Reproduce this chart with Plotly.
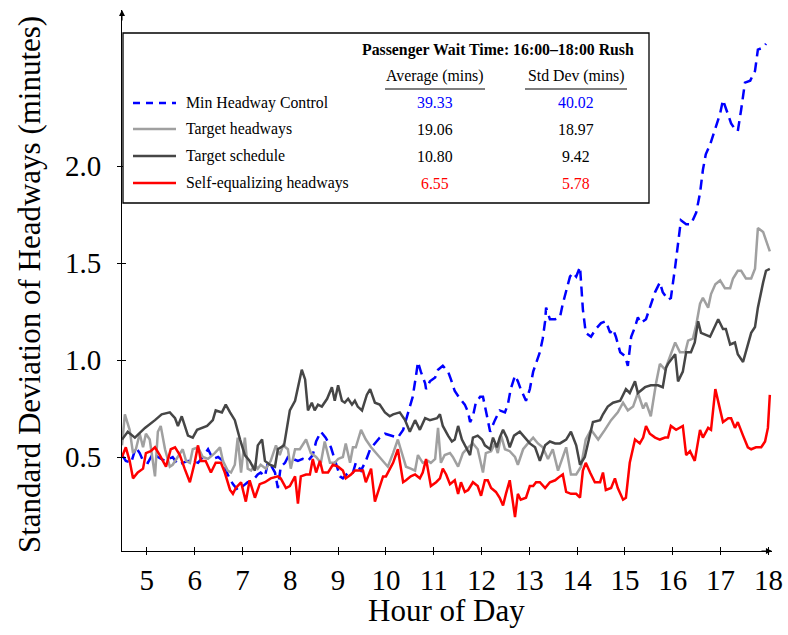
import plotly.graph_objects as go

# ---- data: standard deviation of headways (minutes) by hour of day ----
min_headway_hours = [4.48, 4.56, 4.67, 4.77, 4.85, 4.92, 5.02, 5.13, 5.23, 5.38, 5.54, 5.65, 5.75, 5.86, 5.96,
                     6.07, 6.17, 6.28, 6.38, 6.49, 6.59, 6.69, 6.80, 6.90, 7.01, 7.11, 7.22, 7.32, 7.38, 7.47,
                     7.53, 7.59, 7.68, 7.74, 7.80, 7.89, 7.95, 8.05, 8.16, 8.26, 8.37, 8.47, 8.54, 8.64, 8.74,
                     8.85, 8.93, 9.04, 9.10, 9.21, 9.31, 9.37, 9.48, 9.58, 9.67, 9.77, 9.87, 9.98, 10.10, 10.25,
                     10.36, 10.46, 10.56, 10.63, 10.67, 10.73, 10.82, 10.84, 10.92, 11.03, 11.09, 11.19, 11.30,
                     11.36, 11.44, 11.55, 11.65, 11.72, 11.76, 11.82, 11.88, 11.97, 12.03, 12.09, 12.18, 12.28,
                     12.38, 12.49, 12.55, 12.61, 12.70, 12.76, 12.82, 12.93, 13.01, 13.08, 13.14, 13.22, 13.28,
                     13.33, 13.35, 13.43, 13.54, 13.64, 13.70, 13.77, 13.85, 13.91, 13.98, 14.06, 14.12, 14.18,
                     14.29, 14.39, 14.50, 14.60, 14.69, 14.75, 14.81, 14.90, 15.00, 15.06, 15.13, 15.21, 15.27,
                     15.33, 15.44, 15.52, 15.63, 15.73, 15.79, 15.90, 15.96, 16.05, 16.11, 16.17, 16.28, 16.38,
                     16.49, 16.57, 16.63, 16.69, 16.78, 16.89, 16.99, 17.05, 17.11, 17.22, 17.30, 17.36, 17.43,
                     17.51, 17.62, 17.72, 17.78, 17.89, 17.95]
min_headway_sd = [0.51, 0.48, 0.47, 0.55, 0.52, 0.48, 0.47, 0.52, 0.50, 0.48, 0.50, 0.46, 0.47, 0.48, 0.48,
                  0.47, 0.50, 0.54, 0.49, 0.50, 0.48, 0.41, 0.36, 0.33, 0.35, 0.37, 0.38, 0.41, 0.42, 0.40,
                  0.47, 0.46, 0.42, 0.34, 0.45, 0.47, 0.50, 0.49, 0.48, 0.49, 0.48, 0.51, 0.58, 0.63, 0.60,
                  0.55, 0.49, 0.40, 0.39, 0.42, 0.42, 0.47, 0.43, 0.48, 0.54, 0.57, 0.60, 0.62, 0.61, 0.60,
                  0.64, 0.72, 0.81, 0.92, 0.99, 0.94, 0.88, 0.85, 0.89, 0.91, 0.95, 0.97, 0.94,
                  0.90, 0.84, 0.80, 0.77, 0.73, 0.68, 0.71, 0.78, 0.81, 0.81, 0.74, 0.63, 0.69,
                  0.74, 0.73, 0.77, 0.85, 0.92, 0.89, 0.85, 0.79, 0.85, 0.94, 0.98, 1.04, 1.11,
                  1.20, 1.27, 1.21, 1.21, 1.22, 1.29, 1.35, 1.43, 1.45, 1.43, 1.48, 1.26, 1.14,
                  1.12, 1.16, 1.19, 1.20, 1.14, 1.16, 1.12, 1.04, 1.02, 0.97, 1.12, 1.17, 1.22,
                  1.19, 1.21, 1.27, 1.35, 1.40, 1.35, 1.31, 1.32, 1.48, 1.60, 1.72, 1.70, 1.70,
                  1.76, 1.86, 1.98, 2.06, 2.11, 2.20, 2.27, 2.34, 2.30, 2.22, 2.19, 2.18, 2.29,
                  2.43, 2.44, 2.49, 2.60, 2.61, 2.63]

target_headways_hours = [4.48, 4.54, 4.64, 4.71, 4.77, 4.85, 4.92, 4.98, 5.06, 5.17, 5.23, 5.29, 5.38, 5.48,
                         5.54, 5.65, 5.75, 5.82, 5.90, 5.96, 6.07, 6.17, 6.28, 6.42, 6.53, 6.59, 6.69, 6.76,
                         6.84, 6.90, 6.97, 7.05, 7.11, 7.18, 7.26, 7.32, 7.38, 7.49, 7.59, 7.70, 7.78, 7.85,
                         7.95, 8.01, 8.10, 8.20, 8.33, 8.43, 8.54, 8.64, 8.72, 8.83, 8.93, 9.00, 9.10, 9.16,
                         9.25, 9.31, 9.37, 9.48, 9.58, 9.69, 9.83, 9.98, 10.04, 10.15, 10.25, 10.31, 10.42,
                         10.52, 10.61, 10.67, 10.77, 10.88, 10.94, 11.03, 11.09, 11.15, 11.23, 11.34, 11.40,
                         11.51, 11.61, 11.72, 11.82, 11.92, 12.03, 12.09, 12.20, 12.28, 12.34, 12.41, 12.49,
                         12.59, 12.70, 12.76, 12.87, 12.97, 13.08, 13.18, 13.28, 13.39, 13.49, 13.60, 13.77,
                         13.87, 13.98, 14.08, 14.18, 14.29, 14.44, 14.58, 14.71, 14.85, 14.96, 15.06, 15.17,
                         15.27, 15.38, 15.44, 15.54, 15.65, 15.73, 15.84, 15.94, 16.05, 16.15, 16.26, 16.32,
                         16.42, 16.49, 16.57, 16.63, 16.74, 16.80, 16.89, 16.99, 17.09, 17.20, 17.26, 17.36,
                         17.43, 17.53, 17.64, 17.72, 17.78, 17.89, 18.03]
target_headways_sd = [0.56, 0.72, 0.64, 0.52, 0.54, 0.62, 0.55, 0.62, 0.59, 0.40, 0.63, 0.66, 0.54, 0.45,
                      0.46, 0.50, 0.54, 0.48, 0.47, 0.54, 0.55, 0.50, 0.49, 0.52, 0.55, 0.48, 0.43, 0.42,
                      0.46, 0.60, 0.42, 0.60, 0.44, 0.43, 0.46, 0.44, 0.46, 0.44, 0.48, 0.56, 0.51, 0.56,
                      0.54, 0.44, 0.54, 0.54, 0.59, 0.52, 0.50, 0.47, 0.58, 0.47, 0.47, 0.49, 0.50, 0.57,
                      0.47, 0.55, 0.55, 0.64, 0.59, 0.55, 0.51, 0.47, 0.45, 0.52, 0.59, 0.54, 0.45,
                      0.44, 0.43, 0.51, 0.47, 0.48, 0.47, 0.49, 0.65, 0.47, 0.51, 0.52, 0.50,
                      0.45, 0.52, 0.55, 0.57, 0.54, 0.42, 0.52, 0.53, 0.57, 0.52, 0.61, 0.54,
                      0.53, 0.50, 0.46, 0.54, 0.57, 0.60, 0.57, 0.55, 0.49, 0.54, 0.43, 0.55,
                      0.41, 0.41, 0.45, 0.59, 0.64, 0.59, 0.64, 0.69, 0.73, 0.78, 0.74, 0.76,
                      0.83, 0.75, 0.78, 0.71, 0.88, 0.98, 0.95, 1.02, 1.09, 1.04, 1.04, 1.10,
                      1.11, 1.18, 1.29, 1.32, 1.27, 1.34, 1.39, 1.41, 1.37, 1.37, 1.42, 1.46,
                      1.46, 1.42, 1.42, 1.47, 1.68, 1.66, 1.56]

target_schedule_hours = [4.48, 4.60, 4.75, 4.96, 5.17, 5.31, 5.48, 5.59, 5.65, 5.73, 5.86, 5.96, 6.05, 6.26,
                         6.38, 6.44, 6.57, 6.65, 6.74, 6.84, 6.95, 7.05, 7.15, 7.26, 7.32, 7.41, 7.47, 7.57,
                         7.68, 7.74, 7.87, 7.99, 8.10, 8.20, 8.24, 8.31, 8.37, 8.45, 8.51, 8.58, 8.66, 8.77,
                         8.87, 8.93, 9.00, 9.08, 9.14, 9.21, 9.29, 9.35, 9.41, 9.50, 9.60, 9.67, 9.77, 9.87,
                         9.98, 10.08, 10.15, 10.29, 10.40, 10.50, 10.61, 10.71, 10.82, 10.92, 11.07, 11.13,
                         11.19, 11.30, 11.38, 11.44, 11.51, 11.59, 11.69, 11.76, 11.82, 11.92, 12.01, 12.07,
                         12.18, 12.24, 12.32, 12.38, 12.45, 12.53, 12.59, 12.68, 12.80, 12.91, 13.01, 13.12,
                         13.22, 13.33, 13.43, 13.54, 13.64, 13.77, 13.87, 13.98, 14.06, 14.16, 14.33, 14.48,
                         14.54, 14.64, 14.75, 14.90, 15.02, 15.10, 15.21, 15.27, 15.42, 15.54, 15.69, 15.79,
                         15.86, 15.90, 16.05, 16.11, 16.21, 16.28, 16.38, 16.46, 16.53, 16.59, 16.78, 16.95,
                         17.05, 17.11, 17.20, 17.30, 17.36, 17.47, 17.57, 17.64, 17.72, 17.78, 17.89, 17.95,
                         18.03]
target_schedule_sd = [0.59, 0.63, 0.60, 0.65, 0.69, 0.72, 0.73, 0.70, 0.66, 0.71, 0.61, 0.60, 0.64, 0.66,
                      0.69, 0.74, 0.73, 0.77, 0.73, 0.69, 0.59, 0.51, 0.48, 0.43, 0.56, 0.59, 0.48, 0.46,
                      0.45, 0.54, 0.56, 0.74, 0.79, 0.90, 0.95, 0.90, 0.74, 0.78, 0.74, 0.77, 0.76, 0.80,
                      0.86, 0.79, 0.87, 0.79, 0.78, 0.80, 0.77, 0.79, 0.76, 0.74, 0.82, 0.85, 0.78, 0.77,
                      0.73, 0.71, 0.72, 0.73, 0.69, 0.63, 0.69, 0.64, 0.70, 0.69, 0.70, 0.72,
                      0.66, 0.61, 0.58, 0.59, 0.66, 0.59, 0.54, 0.51, 0.60, 0.61, 0.59, 0.56,
                      0.54, 0.60, 0.55, 0.60, 0.64, 0.60, 0.55, 0.61, 0.63, 0.60, 0.57, 0.55,
                      0.48, 0.56, 0.58, 0.57, 0.57, 0.59, 0.63, 0.56, 0.46, 0.50, 0.68, 0.69,
                      0.72, 0.76, 0.78, 0.79, 0.85, 0.83, 0.89, 0.83, 0.86, 0.87, 0.87, 0.86,
                      0.96, 0.98, 1.03, 0.89, 0.94, 1.04, 1.04, 1.09, 1.20, 1.14, 1.12, 1.21,
                      1.16, 1.16, 1.08, 1.09, 1.03, 0.99, 1.08, 1.14, 1.17, 1.27, 1.40, 1.46,
                      1.47]

self_equalizing_hours = [4.48, 4.56, 4.64, 4.71, 4.81, 4.92, 4.98, 5.08, 5.17, 5.27, 5.40, 5.50, 5.59, 5.69,
                         5.79, 5.90, 6.00, 6.07, 6.13, 6.23, 6.34, 6.44, 6.55, 6.63, 6.74, 6.80, 6.86, 6.97,
                         7.07, 7.15, 7.26, 7.36, 7.47, 7.59, 7.74, 7.80, 7.91, 7.99, 8.10, 8.16, 8.22, 8.33,
                         8.41, 8.47, 8.54, 8.62, 8.68, 8.79, 8.89, 9.00, 9.10, 9.16, 9.27, 9.35, 9.46, 9.52,
                         9.58, 9.69, 9.77, 9.87, 9.94, 10.00, 10.08, 10.15, 10.25, 10.36, 10.42, 10.52, 10.61,
                         10.71, 10.77, 10.84, 10.94, 11.05, 11.13, 11.19, 11.26, 11.34, 11.44, 11.51, 11.57,
                         11.65, 11.72, 11.82, 11.92, 11.99, 12.07, 12.13, 12.20, 12.30, 12.38, 12.45, 12.51,
                         12.59, 12.66, 12.70, 12.76, 12.82, 12.93, 13.01, 13.08, 13.14, 13.22, 13.33, 13.43,
                         13.54, 13.64, 13.70, 13.77, 13.87, 13.98, 14.06, 14.12, 14.18, 14.27, 14.37, 14.48,
                         14.54, 14.60, 14.71, 14.79, 14.85, 14.96, 15.02, 15.10, 15.21, 15.31, 15.38, 15.44,
                         15.52, 15.63, 15.73, 15.84, 15.90, 15.96, 16.07, 16.21, 16.28, 16.36, 16.46, 16.57,
                         16.63, 16.74, 16.80, 16.89, 17.05, 17.16, 17.22, 17.30, 17.36, 17.47, 17.57, 17.64,
                         17.74, 17.85, 17.93, 17.99, 18.03]
self_equalizing_sd = [0.50, 0.55, 0.48, 0.39, 0.42, 0.44, 0.52, 0.53, 0.55, 0.51, 0.45, 0.54, 0.55, 0.51,
                      0.44, 0.37, 0.47, 0.56, 0.48, 0.48, 0.42, 0.47, 0.47, 0.42, 0.33, 0.31, 0.34, 0.37,
                      0.27, 0.38, 0.29, 0.36, 0.37, 0.39, 0.40, 0.39, 0.34, 0.35, 0.40, 0.26, 0.40, 0.41,
                      0.41, 0.49, 0.42, 0.48, 0.42, 0.42, 0.46, 0.45, 0.43, 0.39, 0.41, 0.43, 0.43, 0.43,
                      0.37, 0.44, 0.27, 0.35, 0.40, 0.40, 0.44, 0.47, 0.54, 0.37, 0.38, 0.40, 0.41,
                      0.39, 0.42, 0.49, 0.35, 0.37, 0.39, 0.44, 0.41, 0.36, 0.38, 0.31, 0.37,
                      0.32, 0.33, 0.37, 0.35, 0.30, 0.38, 0.38, 0.34, 0.32, 0.29, 0.25, 0.31,
                      0.38, 0.26, 0.19, 0.31, 0.28, 0.29, 0.35, 0.35, 0.37, 0.37, 0.34, 0.37,
                      0.38, 0.40, 0.41, 0.32, 0.31, 0.31, 0.29, 0.43, 0.47, 0.42, 0.37, 0.37,
                      0.42, 0.33, 0.34, 0.39, 0.34, 0.28, 0.29, 0.47, 0.59, 0.57, 0.60, 0.66,
                      0.62, 0.60, 0.59, 0.60, 0.60, 0.66, 0.64, 0.66, 0.51, 0.53, 0.48, 0.64,
                      0.60, 0.65, 0.64, 0.85, 0.68, 0.70, 0.70, 0.65, 0.68, 0.61, 0.55, 0.54,
                      0.55, 0.55, 0.58, 0.65, 0.82]

# ---- table shown in the key: passenger wait time, 16:00-18:00 rush ----
series_names = ["Min Headway Control", "Target headways", "Target schedule", "Self-equalizing headways"]
wait_average = ["39.33", "19.06", "10.80", "6.55"]
wait_std_dev = ["40.02", "18.97", "9.42", "5.78"]

x_ticks = [5, 6, 7, 8, 9, 10, 11, 12, 13, 14, 15, 16, 17, 18]
y_ticks = [0.5, 1.0, 1.5, 2.0]

BLUE = "#0000ff"
LIGHT = "#a0a0a0"
DARK = "#464646"
RED = "#ff0000"
SERIF = "Liberation Serif, Times New Roman, serif"
KEY_SIZE = 15.8

styles = [
    dict(color=BLUE, dash="10px,6px"),
    dict(color=LIGHT, dash="solid"),
    dict(color=DARK, dash="solid"),
    dict(color=RED, dash="solid"),
]
value_colors = [BLUE, "black", "black", RED]

fig = go.Figure()
# draw order: blue dashed underneath, red on top
for xs, ys, st in [
    (min_headway_hours, min_headway_sd, styles[0]),
    (target_headways_hours, target_headways_sd, styles[1]),
    (target_schedule_hours, target_schedule_sd, styles[2]),
    (self_equalizing_hours, self_equalizing_sd, styles[3]),
]:
    fig.add_trace(go.Scatter(x=xs, y=ys, mode="lines", showlegend=False,
                             line=dict(color=st["color"], dash=st["dash"], width=2.5)))

# ---- geometry of the plotting area in pixels ----
W, H = 788, 635
L, R, T, B = 122, 16, 10, 84
pw, ph = W - L - R, H - T - B


def px(xpix):
    return (xpix - L) / pw


def py(ypix):
    return (H - B - ypix) / ph


shapes = []
ann = []

# key box with the wait-time table
shapes.append(dict(type="rect", xref="paper", yref="paper", x0=px(123), x1=px(649), y0=py(203), y1=py(33),
                   line=dict(color="black", width=1.3), fillcolor="white", layer="above"))
ann.append(dict(xref="paper", yref="paper", x=px(498), y=py(50), text="<b>Passenger Wait Time: 16:00–18:00 Rush</b>",
                showarrow=False, font=dict(family=SERIF, size=KEY_SIZE, color="black"),
                xanchor="center", yanchor="middle"))
for cx, label, x0, x1 in [(435, "Average (mins)", 385, 485), (576, "Std Dev (mins)", 525, 627)]:
    ann.append(dict(xref="paper", yref="paper", x=px(cx), y=py(76), text=label, showarrow=False,
                    font=dict(family=SERIF, size=KEY_SIZE, color="black"), xanchor="center", yanchor="middle"))
    shapes.append(dict(type="line", xref="paper", yref="paper", x0=px(x0), x1=px(x1), y0=py(89), y1=py(89),
                       line=dict(color="#555555", width=1.3), layer="above"))

row_y = [103, 129, 156, 183]
for i, name in enumerate(series_names):
    yy = py(row_y[i])
    shapes.append(dict(type="line", xref="paper", yref="paper", x0=px(133), x1=px(176), y0=yy, y1=yy,
                       line=dict(color=styles[i]["color"], dash="7px,6px" if i == 0 else "solid", width=2.5),
                       layer="above"))
    ann.append(dict(xref="paper", yref="paper", x=px(184), y=yy, text=name, showarrow=False,
                    font=dict(family=SERIF, size=KEY_SIZE, color="black"), xanchor="left", yanchor="middle"))
    ann.append(dict(xref="paper", yref="paper", x=px(435), y=yy, text=wait_average[i], showarrow=False,
                    font=dict(family=SERIF, size=KEY_SIZE, color=value_colors[i]),
                    xanchor="center", yanchor="middle"))
    ann.append(dict(xref="paper", yref="paper", x=px(576), y=yy, text=wait_std_dev[i], showarrow=False,
                    font=dict(family=SERIF, size=KEY_SIZE, color=value_colors[i]),
                    xanchor="center", yanchor="middle"))

# axis titles
ann.append(dict(xref="paper", yref="paper", x=px(446), y=py(610), text="Hour of Day", showarrow=False,
                font=dict(family=SERIF, size=31, color="black"), xanchor="center", yanchor="middle"))
ann.append(dict(xref="paper", yref="paper", x=px(29), y=py(285), text="Standard Deviation of Headways (minutes)",
                showarrow=False, textangle=-90, font=dict(family=SERIF, size=31, color="black"),
                xanchor="center", yanchor="middle"))

# arrow heads on the axis lines
ann.append(dict(xref="paper", yref="paper", x=1.0, y=0.0, ax=-12, ay=0, axref="pixel", ayref="pixel",
                text="", showarrow=True, arrowhead=2, arrowsize=1.1, arrowwidth=1.1, arrowcolor="black"))
ann.append(dict(xref="paper", yref="paper", x=0.0, y=1.0, ax=0, ay=12, axref="pixel", ayref="pixel",
                text="", showarrow=True, arrowhead=2, arrowsize=1.1, arrowwidth=1.1, arrowcolor="black"))

x_range = [4.48, 5 + (L + pw - 147) / 47.8]
y_range = [(554 - (H - B)) / 194, (554 - T) / 194]

fig.update_layout(
    width=W, height=H,
    margin=dict(l=L, r=R, t=T, b=B, pad=0, autoexpand=False),
    paper_bgcolor="white", plot_bgcolor="white",
    shapes=shapes, annotations=ann,
    font=dict(family=SERIF, color="black"),
    xaxis=dict(range=x_range, tickvals=x_ticks, ticktext=[str(v) for v in x_ticks], automargin=False,
               showgrid=False, zeroline=False, showline=True, linecolor="black", linewidth=1.1,
               ticks="outside", ticklen=3, tickcolor="black", tickwidth=1,
               tickfont=dict(family=SERIF, size=29, color="black")),
    yaxis=dict(range=y_range, tickvals=y_ticks, ticktext=["%.1f" % v for v in y_ticks], automargin=False,
               showgrid=False, zeroline=False, showline=True, linecolor="black", linewidth=1.1,
               ticks="outside", ticklen=4, tickcolor="black", tickwidth=1,
               tickfont=dict(family=SERIF, size=29, color="black"), ticklabelstandoff=10),
    xaxis2=dict(range=x_range, overlaying="x", tickvals=x_ticks, showticklabels=False, ticks="inside",
                ticklen=4, tickcolor="black", showgrid=False, zeroline=False, showline=False),
    yaxis2=dict(range=y_range, overlaying="y", tickvals=y_ticks, showticklabels=False, ticks="inside",
                ticklen=4, tickcolor="black", showgrid=False, zeroline=False, showline=False),
)
# invisible trace to anchor the inner tick axes
fig.add_trace(go.Scatter(x=[x_range[0]], y=[y_range[0]], xaxis="x2", yaxis="y2", mode="markers",
                         marker=dict(opacity=0), showlegend=False, hoverinfo="skip"))

fig.write_html("out.html")
